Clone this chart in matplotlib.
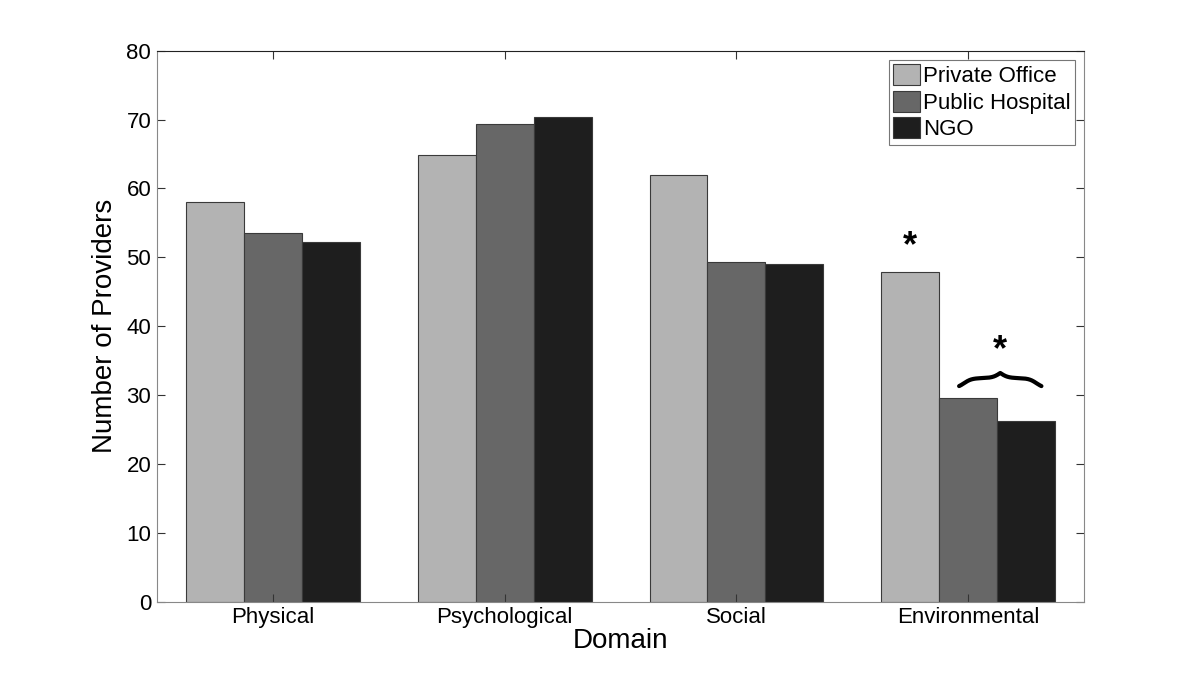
import numpy as np
import matplotlib.pyplot as plt

plt.rcParams['font.family'] = ['Liberation Sans', 'DejaVu Sans']

domains = ['Physical', 'Psychological', 'Social', 'Environmental']
series = ['Private Office', 'Public Hospital', 'NGO']
private_office = [58.1, 64.9, 62.0, 47.9]
public_hospital = [53.6, 69.3, 49.3, 29.5]
ngo = [52.2, 70.4, 49.0, 26.2]
colors = ['#b3b3b3', '#676767', '#1e1e1e']

fig = plt.figure(figsize=(12, 6.76), dpi=100)
ax = fig.add_axes([0.1306, 0.110, 0.773, 0.815])

x = np.arange(1, len(domains) + 1)
w = 0.25
for i, (vals, lab) in enumerate(zip([private_office, public_hospital, ngo], series)):
    ax.bar(x + (i - 1) * w, vals, w, color=colors[i], edgecolor='#3a3a3a',
           linewidth=0.8, label=lab)

ax.set_xlim(0.5, 4.5)
ax.set_ylim(0, 80)
ax.set_xticks(x)
ax.set_xticklabels(domains)
ax.set_yticks(np.arange(0, 81, 10))
ax.tick_params(direction='in', length=6, labelsize=16, top=True, right=True,
               color='#333333', pad=4)
for s in ['left', 'bottom', 'right']:
    ax.spines[s].set_color('#888888')
ax.spines['top'].set_color('#222222')

ax.set_xlabel('Domain', fontsize=20, labelpad=0)
ax.set_ylabel('Number of Providers', fontsize=20, labelpad=6)

leg = ax.legend(loc='upper right', fontsize=16, frameon=True, fancybox=False,
                edgecolor='#555555', handlelength=1.2, handleheight=1.1,
                handletextpad=0.15, labelspacing=0.15, borderpad=0.2,
                borderaxespad=0.4)
leg.get_frame().set_linewidth(0.8)

# significance markers
ax.text(x[3] - w, private_office[3] + 3.6, '*', ha='center', va='center',
        fontsize=26, fontweight='bold')

# curly brace over Public Hospital / NGO
bx0, bx1 = x[3] - 0.04, x[3] + w + 0.065
mid = (bx0 + bx1) / 2
half = (bx1 - bx0) / 2
by = public_hospital[3] + 1.8
h = 1.9
beta = 60.0
s = np.linspace(0, half, 200)
yh = 1 / (1 + np.exp(-beta * (s - 0.12 * half))) + 1 / (1 + np.exp(-beta * (s - half)))
yh = yh - yh[0]
yh = yh / yh[-1] * h
bxs = np.concatenate([bx0 + s, bx1 - s[::-1]])
bys = by + np.concatenate([yh, yh[::-1]])
ax.plot(bxs, bys, color='black', lw=3, solid_capstyle='round')
ax.text(mid, by + 5.2, '*', ha='center', va='center', fontsize=26, fontweight='bold')

fig.savefig('out.png', dpi=100)
